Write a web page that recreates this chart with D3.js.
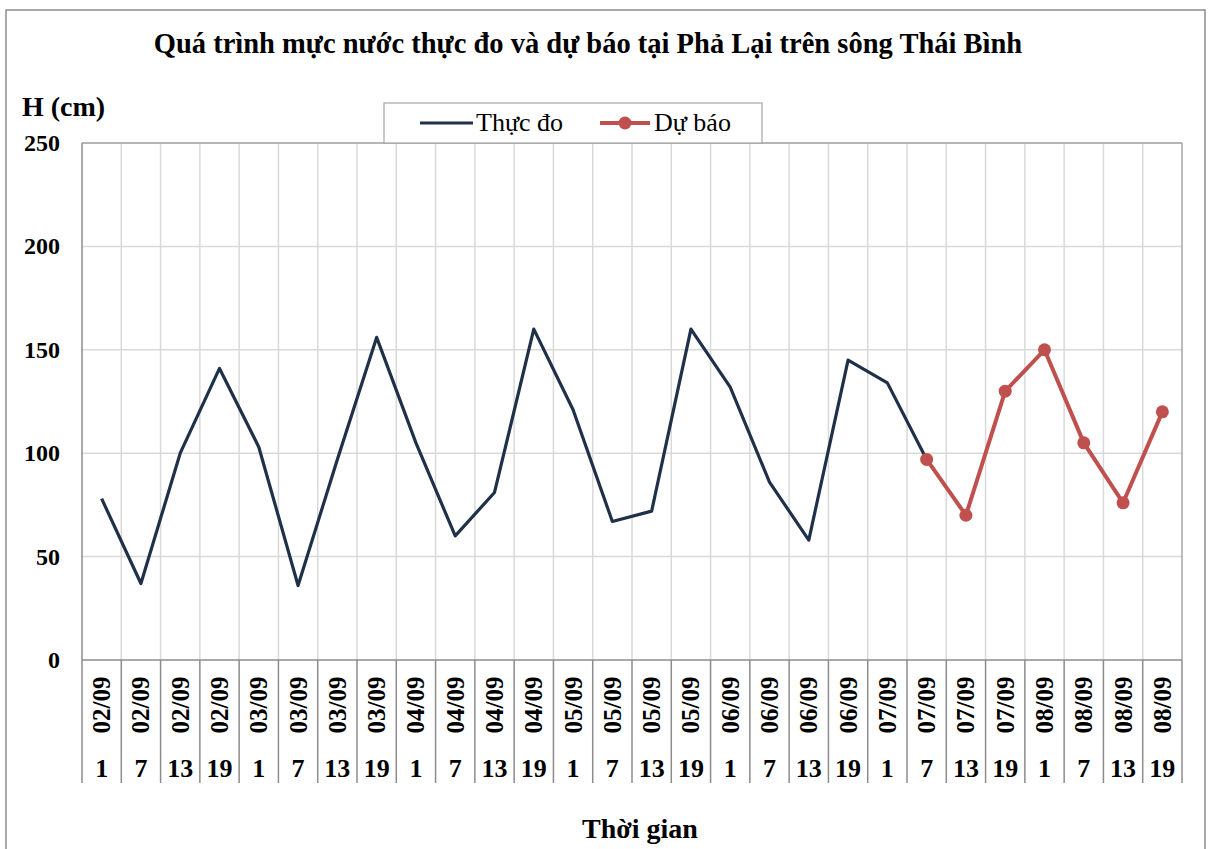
<!DOCTYPE html>
<html><head><meta charset="utf-8">
<script src="https://cdn.jsdelivr.net/npm/d3@7"></script>
<style>body{margin:0;background:#fff}svg{display:block}text{font-family:"Liberation Serif","Times New Roman",serif}</style>
</head><body><svg id="c" width="1214" height="849"></svg>
<script>
const dates = ["02/09","02/09","02/09","02/09","03/09","03/09","03/09","03/09","04/09","04/09","04/09","04/09","05/09","05/09","05/09","05/09","06/09","06/09","06/09","06/09","07/09","07/09","07/09","07/09","08/09","08/09","08/09","08/09"];
const hours = ["1","7","13","19","1","7","13","19","1","7","13","19","1","7","13","19","1","7","13","19","1","7","13","19","1","7","13","19"];
const observed = [78,37,100,141,103,36,97,156,105,60,81,160,121,67,72,160,132,86,58,145,134,97];
const forecast = [null,null,null,null,null,null,null,null,null,null,null,null,null,null,null,null,null,null,null,null,null,97,70,130,150,105,76,120];
const yTicks = [0,50,100,150,200,250];

const svg = d3.select("#c");
const L=82,R=1182,T=143,B=660;
const idx = d3.range(dates.length);
const x = d3.scaleBand().domain(idx).range([L,R]);
const y = d3.scaleLinear().domain([0,250]).range([B,T]);
const cx = i => x(i)+x.bandwidth()/2;

// outer border
svg.append("rect").attr("x",6).attr("y",10).attr("width",1199).attr("height",850).attr("fill","none").attr("stroke","#8c8c8c").attr("stroke-width",1.5);

// horizontal grid
svg.append("g").selectAll("line").data(yTicks.filter(d=>d>0)).join("line")
 .attr("x1",L).attr("x2",R).attr("y1",d=>y(d)).attr("y2",d=>y(d)).attr("stroke","#d9d9d9").attr("stroke-width",1.5);
// vertical grid at category boundaries
svg.append("g").selectAll("line").data(idx.slice(1)).join("line")
 .attr("x1",d=>x(d)).attr("x2",d=>x(d)).attr("y1",T).attr("y2",B).attr("stroke","#d9d9d9").attr("stroke-width",1.5);
// plot frame
svg.append("line").attr("x1",L).attr("x2",R).attr("y1",T).attr("y2",T).attr("stroke","#a6a6a6").attr("stroke-width",1.5);
svg.append("line").attr("x1",R).attr("x2",R).attr("y1",T).attr("y2",B).attr("stroke","#a6a6a6").attr("stroke-width",1.5);
svg.append("line").attr("x1",L).attr("x2",L).attr("y1",T).attr("y2",B).attr("stroke","#8c8c8c").attr("stroke-width",1.5);

// x axis table
svg.append("line").attr("x1",L).attr("x2",R).attr("y1",B).attr("y2",B).attr("stroke","#8c8c8c").attr("stroke-width",1.5);
svg.append("g").selectAll("line").data(idx.concat([dates.length])).join("line")
 .attr("x1",d=>d<dates.length?x(d):R).attr("x2",d=>d<dates.length?x(d):R).attr("y1",B).attr("y2",783).attr("stroke","#8c8c8c").attr("stroke-width",1.5);
svg.append("g").selectAll("text").data(idx).join("text")
 .attr("transform",i=>`translate(${cx(i)+8.5},705) rotate(-90)`).attr("text-anchor","middle")
 .attr("font-size",25).attr("font-weight","bold").attr("fill","#000").text(i=>dates[i]);
svg.append("g").selectAll("text").data(idx).join("text")
 .attr("x",i=>cx(i)).attr("y",777).attr("text-anchor","middle")
 .attr("font-size",26).attr("font-weight","bold").attr("fill","#000").text(i=>hours[i]);

// y axis labels
svg.append("g").selectAll("text").data(yTicks).join("text")
 .attr("x",60).attr("y",d=>y(d)+8).attr("text-anchor","end")
 .attr("font-size",24).attr("font-weight","bold").text(d=>d);

// lines
const line = d3.line().defined(d=>d!=null).x((d,i)=>cx(i)).y(d=>y(d));
svg.append("path").datum(observed).attr("d",line).attr("fill","none").attr("stroke","#1f3049").attr("stroke-width",3.2).attr("stroke-linejoin","round");
svg.append("path").datum(forecast).attr("d",line).attr("fill","none").attr("stroke","#c0504d").attr("stroke-width",4).attr("stroke-linejoin","round");
svg.append("g").selectAll("circle").data(forecast.map((v,i)=>({v,i})).filter(d=>d.v!=null)).join("circle")
 .attr("cx",d=>cx(d.i)).attr("cy",d=>y(d.v)).attr("r",6.5).attr("fill","#c0504d");

// title
svg.append("text").attr("x",588).attr("y",53).attr("text-anchor","middle").attr("font-size",28.5).attr("font-weight","bold")
 .text("Quá trình mực nước thực đo và dự báo tại Phả Lại trên sông Thái Bình");
svg.append("text").attr("x",22).attr("y",116).attr("font-size",28).attr("font-weight","bold").text("H (cm)");
svg.append("text").attr("x",640).attr("y",838).attr("text-anchor","middle").attr("font-size",28).attr("font-weight","bold").text("Thời gian");

// legend
const lg = svg.append("g");
lg.append("rect").attr("x",384).attr("y",103).attr("width",378).attr("height",40).attr("fill","#fff").attr("stroke","#a6a6a6").attr("stroke-width",1.2);
lg.append("line").attr("x1",420).attr("x2",473).attr("y1",123).attr("y2",123).attr("stroke","#1f3049").attr("stroke-width",3.2);
lg.append("text").attr("x",476).attr("y",131).attr("font-size",26).text("Thực đo");
lg.append("line").attr("x1",600).attr("x2",650).attr("y1",123).attr("y2",123).attr("stroke","#c0504d").attr("stroke-width",4);
lg.append("circle").attr("cx",625).attr("cy",123).attr("r",6.5).attr("fill","#c0504d");
lg.append("text").attr("x",654).attr("y",131).attr("font-size",26).text("Dự báo");
</script></body></html>
